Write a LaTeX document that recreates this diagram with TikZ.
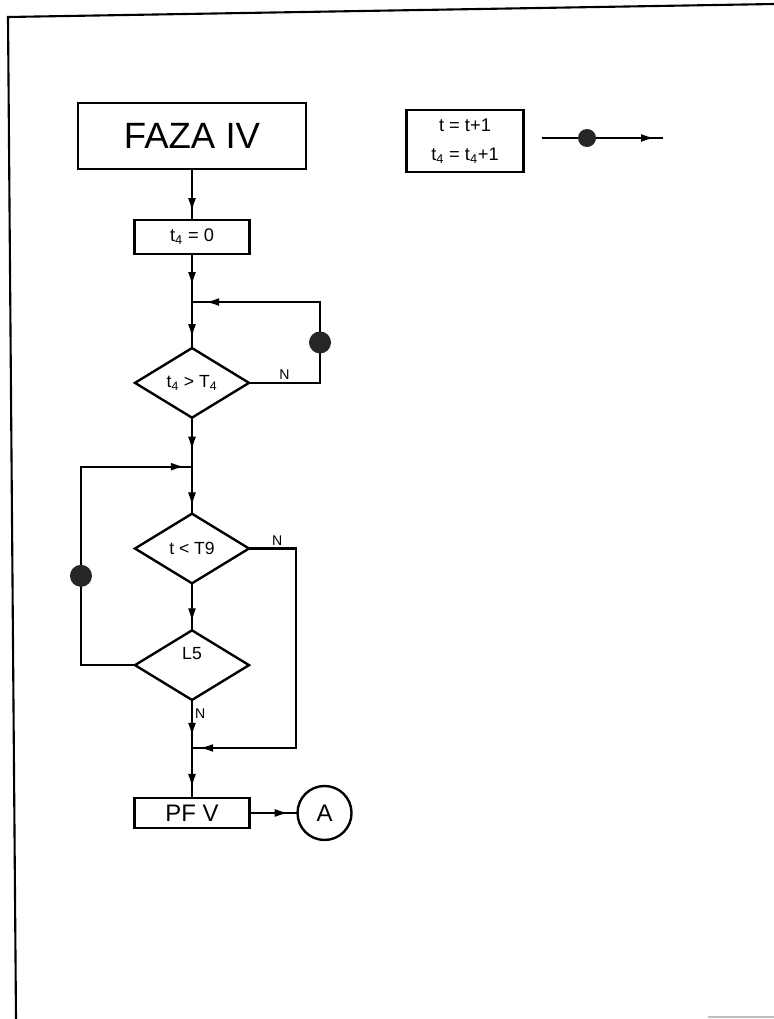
\documentclass[tikz,border=0pt]{standalone}
\usepackage{fontspec}
\setmainfont{Liberation Sans}
\usetikzlibrary{arrows.meta,positioning,shapes.geometric,calc,decorations.markings}

\begin{document}
\begin{tikzpicture}[x=0.025cm, y=-0.025cm,
  block/.style={draw, line width=1.7pt, inner sep=0pt, outer sep=0pt, font=\fontsize{13}{15}\selectfont},
  decision/.style={draw, line width=1.7pt, diamond, inner sep=0pt, outer sep=0pt,
                   minimum width=2.85cm, minimum height=1.74cm, font=\fontsize{12.5}{14}\selectfont},
  dot/.style={circle, fill=black!85, minimum size=0.55cm, inner sep=0pt},
  answer/.style={font=\fontsize{10}{12}\selectfont, inner sep=1.5pt},
  flow/.style={line width=1.6pt, postaction={decorate},
               decoration={markings, mark=at position -#1 with {\arrow{Latex[length=3.5mm,width=2mm]}}}},
  flow/.default=0.25cm
]
  \useasboundingbox (0,0) rectangle (774,1019);
  \draw[line width=1.5pt] (16,1019) -- (8,17) -- (774,4);
  \draw[gray!50, line width=1pt] (708,1017) -- (774,1017);

  \node[block, minimum width=5.7cm, minimum height=1.65cm, font=\fontsize{26}{30}\selectfont] (faza) at (192,136) {FAZA IV};
  \node[block, minimum width=2.875cm, minimum height=0.85cm, below=1.275cm of faza] (t40) {t\textsubscript{4} = 0};
  \coordinate[below=1.2cm of t40] (j1);
  \node[decision, below=1.15cm of j1] (d1) {t\textsubscript{4} > T\textsubscript{4}};
  \coordinate[below=1.225cm of d1] (j2);
  \node[decision, below=1.175cm of j2] (d2) {t < T9};
  \node[decision, below=1.175cm of d2] (d3) {\raisebox{0.6cm}{L5}};
  \coordinate[below=1.2cm of d3] (j3);
  \node[block, minimum width=2.875cm, minimum height=0.75cm, below=1.25cm of j3, font=\fontsize{17}{20}\selectfont] (pfv) {PF V};
  \node[circle, draw, line width=1.7pt, minimum size=1.35cm, inner sep=0pt, outer sep=0pt, right=1.2cm of pfv, font=\fontsize{17}{20}\selectfont] (a) {A};

  \node[block, minimum width=2.925cm, minimum height=1.55cm, align=center, font=\fontsize{13}{21}\selectfont] (incr) at (465,141) {t = t+1\\t\textsubscript{4} = t\textsubscript{4}+1};
  \coordinate (l0) at (542,138);
  \coordinate (l1) at (663,138);

  \draw[flow=0.2cm] (faza) -- (t40);
  \draw[flow=0.4cm] (t40) -- (j1);
  \draw[flow] (j1) -- (d1);
  \draw[flow=0.33cm] (d1.east) -- node[answer, above] (n1) {N} ++(1.775cm,0) coordinate (k1) |- (j1);
  \node[dot] (dot1) at ($(k1)!0.5!(k1 |- j1)$) {};
  \draw[flow=0.4cm] (d1) -- (j2);
  \draw[flow=0.18cm] (j2) -- (d2);
  \draw[flow=0.2cm] (d2) -- (d3);
  \draw[flow=0.18cm] (d2.east) -- node[answer, above, pos=0.6] (n2) {N} ++(1.175cm,0) |- (j3);
  \draw[flow=0.18cm] (d3.west) -- ++(-1.35cm,0) coordinate (k3) |- (j2);
  \node[dot] (dot3) at ($(k3)!0.45!(k3 |- j2)$) {};
  \draw[flow=0.28cm] (d3.south) -- node[answer, right, pos=0.28] (n3) {N} (j3);
  \draw[flow] (j3) -- (pfv);
  \draw[flow=0.22cm] (pfv) -- (a);
  \draw[flow=0.2cm] (l0) -- (l1);
  \node[dot, minimum size=0.45cm] (ldot) at (587,138) {};
\end{tikzpicture}
\end{document}
